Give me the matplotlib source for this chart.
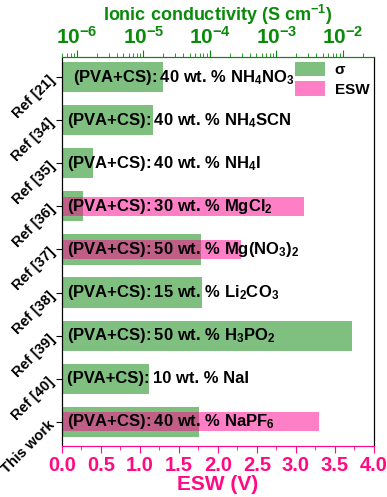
import matplotlib
matplotlib.use('Agg')
import matplotlib.pyplot as plt
from matplotlib.patches import Patch
from matplotlib.ticker import LogLocator, MultipleLocator, NullFormatter, FuncFormatter
import math

plt.rcParams['font.family'] = ['Liberation Sans', 'DejaVu Sans']
plt.rcParams['font.weight'] = 'bold'
plt.rcParams['mathtext.fontset'] = 'custom'
plt.rcParams['mathtext.rm'] = 'Liberation Sans:bold'
plt.rcParams['mathtext.bf'] = 'Liberation Sans:bold'
plt.rcParams['mathtext.default'] = 'bf'

# data
refs = ['Ref [21]', 'Ref [34]', 'Ref [35]', 'Ref [36]', 'Ref [37]',
        'Ref [38]', 'Ref [39]', 'Ref [40]', 'This work']
prefix = '(PVA+CS):\u2009'
salts = ['40 wt. % NH$_4$NO$_3$', '40 wt. % NH$_4$SCN', '40 wt. % NH$_4$I',
         '30 wt. % MgCl$_2$', '50 wt. % Mg(NO$_3$)$_2$', '15 wt. % Li$_2$CO$_3$',
         '50 wt. % H$_3$PO$_2$', '10 wt. % NaI', '40 wt. % NaPF$_6$']
sigma = [2.0e-5, 1.4e-5, 1.75e-6, 1.23e-6, 7.3e-5, 7.6e-5, 1.36e-2, 1.2e-5, 6.8e-5]
esw = [0, 0, 0, 3.1, 2.3, 0, 0, 0, 3.3]

green = '#0a8a0a'
pink = '#ff0a84'
pos = list(range(len(refs)))

fig = plt.figure(figsize=(3.87, 4.97), dpi=100)
ax = fig.add_axes([0.160, 0.103, 0.806, 0.782])
ax2 = ax.twiny()

# conductivity on log axis (top)
xmin, xmax = 10 ** -6.226, 10 ** -1.534
ax.set_xscale('log')
ax.set_xlim(xmin, xmax)
ax.barh(pos, [s - xmin for s in sigma], left=xmin, height=0.7,
        color='green', alpha=0.5, linewidth=0)
ax.xaxis.tick_top()
ax.xaxis.set_label_position('top')
ax.set_xlabel('Ionic conductivity (S cm$^{-1}$)', color=green, fontsize=13,
              fontweight='bold', labelpad=3)
ax.xaxis.set_major_locator(LogLocator(base=10, numticks=10))
ax.xaxis.set_major_formatter(FuncFormatter(
    lambda v, p: r'$\mathbf{10^{%d}}$' % round(math.log10(v))))
ax.xaxis.set_minor_locator(LogLocator(base=10, subs=range(2, 10), numticks=20))
ax.xaxis.set_minor_formatter(NullFormatter())
ax.tick_params(axis='x', which='both', colors=green, labelsize=15, top=True,
               bottom=False, direction='out', pad=2)
ax.tick_params(axis='x', which='major', length=5)
ax.tick_params(axis='x', which='minor', length=3)

ax.set_yticks(pos)
ax.set_yticklabels(refs, rotation=45, ha='right', rotation_mode='anchor',
                   fontsize=10.5, fontweight='bold')
ax.set_ylim(8.557, -0.464)
ax.tick_params(axis='y', length=4, direction='out')

# ESW on linear axis (bottom)
ax2.barh(pos, esw, height=0.44, color='#ff0091', alpha=0.5, linewidth=0)
ax2.set_xlim(0, 4)
ax2.xaxis.tick_bottom()
ax2.xaxis.set_label_position('bottom')
ax2.set_xlabel('ESW (V)', color=pink, fontsize=15, fontweight='bold', labelpad=0)
ax2.xaxis.set_major_locator(MultipleLocator(0.5))
ax2.xaxis.set_minor_locator(MultipleLocator(0.25))
ax2.tick_params(axis='x', which='both', colors=pink, labelsize=14.5, top=False,
                bottom=True, direction='out', pad=2)
ax2.tick_params(axis='x', which='major', length=5)
ax2.tick_params(axis='x', which='minor', length=3)
ax2.set_ylim(8.557, -0.464)

for a in (ax, ax2):
    a.spines['top'].set_color(green)
    a.spines['bottom'].set_color(pink)

for i, s in enumerate(salts):
    x0 = 0.14 if i == 0 else 0.065
    ax2.text(x0, i, prefix + s, va='center', ha='left', fontsize=12,
             fontweight='bold')

handles = [Patch(facecolor='green', alpha=0.5, linewidth=0, label='σ'),
           Patch(facecolor='#ff0091', alpha=0.5, linewidth=0, label='ESW')]
ax2.legend(handles=handles, loc='upper right', bbox_to_anchor=(1.0, 1.0),
           frameon=False, fontsize=11, handlelength=2.0, handleheight=1.1,
           handletextpad=0.6, labelspacing=0.25, borderaxespad=0.0,
           borderpad=0.3)

fig.savefig('out.png', dpi=100)
